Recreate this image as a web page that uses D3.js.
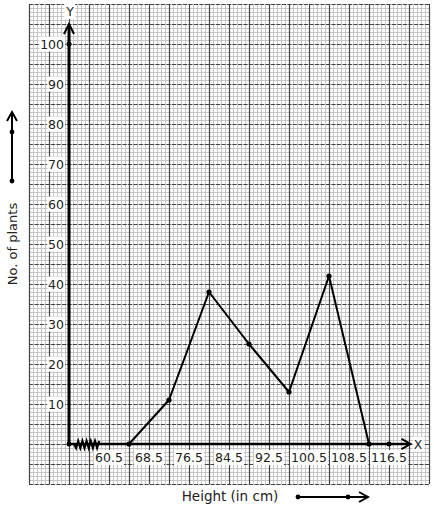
<!DOCTYPE html>
<html>
<head>
<meta charset="utf-8">
<script src="https://cdn.jsdelivr.net/npm/d3@7"></script>
<style>
  html, body { margin: 0; padding: 0; background: #fff; }
  svg { display: block; font-family: "DejaVu Sans", sans-serif; }
</style>
</head>
<body>
<svg id="chart" width="434" height="510"></svg>
<script>
// ---- data ----
const classMarks = [64.5, 72.5, 80.5, 88.5, 96.5, 104.5, 112.5];
const plants = [0, 11, 38, 25, 13, 42, 0];
const xTickLabels = [60.5, 68.5, 76.5, 84.5, 92.5, 100.5, 108.5, 116.5];
const yTickLabels = [10, 20, 30, 40, 50, 60, 70, 80, 90, 100];
const extraAxisDots = [116.5];
const xTitle = "Height (in cm)";
const yTitle = "No. of plants";

const svg = d3.select("#chart");

// scales: 5 px per cm, 4 px per plant
const x = d3.scaleLinear().domain([52.5, 116.5]).range([69, 389]);
const y = d3.scaleLinear().domain([0, 100]).range([444, 44]);

const gx0 = 44.5, gx1 = 124.5, gy0 = -10, gy1 = 110;

// ---- graph paper ----
const grid = svg.append("g");
const minorX = d3.range(0, 101).map(i => gx0 + i * 0.8);
const minorY = d3.range(0, 121).map(i => gy0 + i);
grid.selectAll("line.mx").data(minorX).join("line")
  .attr("x1", d => Math.round(x(d)) + 0.5).attr("x2", d => Math.round(x(d)) + 0.5)
  .attr("y1", y(gy1)).attr("y2", y(gy0))
  .attr("stroke", "#c6c6c6").attr("stroke-width", 1);
grid.selectAll("line.my").data(minorY).join("line")
  .attr("y1", d => Math.round(y(d)) + 0.5).attr("y2", d => Math.round(y(d)) + 0.5)
  .attr("x1", x(gx0)).attr("x2", x(gx1))
  .attr("stroke", "#c6c6c6").attr("stroke-width", 1);

const majorX = d3.range(0, 21).map(i => gx0 + i * 4);
const majorY = d3.range(0, 25).map(i => gy0 + i * 5);
grid.selectAll("line.MX").data(majorX).join("line")
  .attr("x1", d => Math.round(x(d)) + 0.5).attr("x2", d => Math.round(x(d)) + 0.5)
  .attr("y1", y(gy1)).attr("y2", y(gy0))
  .attr("stroke", "#444").attr("stroke-width", 1.2);
grid.selectAll("line.MY").data(majorY).join("line")
  .attr("y1", d => Math.round(y(d)) + 0.5).attr("y2", d => Math.round(y(d)) + 0.5)
  .attr("x1", x(gx0)).attr("x2", x(gx1))
  .attr("stroke", "#444").attr("stroke-width", 1.2)
  .attr("stroke-dasharray", "4,1.5");

// ---- tick labels with white background ----
function labelWithBg(g, txt, px, py, anchor, fs) {
  const t = g.append("text").attr("x", px).attr("y", py)
    .attr("text-anchor", anchor).attr("font-size", fs || 12.5).attr("fill", "#222").text(txt);
  const b = t.node().getBBox();
  g.insert("rect", () => t.node())
    .attr("x", b.x - 1).attr("y", b.y).attr("width", b.width + 2).attr("height", b.height)
    .attr("fill", "#fff");
}
const labels = svg.append("g");
xTickLabels.forEach(v => labelWithBg(labels, String(v), x(v), y(0) + 18, "middle"));
yTickLabels.forEach(v => labelWithBg(labels, String(v), x(52.5) - 5, y(v) + 4.5, "end"));
labelWithBg(labels, "Y", x(52.5) + 1, y(0) - 428, "middle");
labelWithBg(labels, "X", x(116.5) + 29, y(0) + 4.5, "middle");

// ---- axes ----
const axes = svg.append("g").attr("stroke", "#000").attr("fill", "none");
axes.append("line").attr("x1", x(52.5)).attr("x2", x(52.5))
  .attr("y1", y(0)).attr("y2", y(104.5)).attr("stroke-width", 3);
axes.append("path").attr("d", `M${x(52.5) - 5},${y(102.5)} L${x(52.5)},${y(105)} L${x(52.5) + 5},${y(102.5)}`)
  .attr("stroke-width", 2);
axes.append("line").attr("x1", x(52.5)).attr("x2", x(120.5))
  .attr("y1", y(0)).attr("y2", y(0)).attr("stroke-width", 2.5);
axes.append("path").attr("d", `M${x(119)},${y(1.3)} L${x(120.8)},${y(0)} L${x(119)},${y(-1.3)}`)
  .attr("stroke-width", 2);

// kink (zig-zag) on x axis
const kinkPts = d3.range(0, 13).map(i => [x(53.5) + i * 2.1, y(0) + (i % 2 === 0 ? -3 : 4) * (i === 0 ? 0 : 1)]);
axes.append("path").attr("d", d3.line()(kinkPts)).attr("stroke-width", 2.2);

// dots on axes
const axDots = svg.append("g").attr("fill", "#000");
axDots.append("circle").attr("cx", x(52.5)).attr("cy", y(0)).attr("r", 2.5);
axDots.append("circle").attr("cx", x(52.5)).attr("cy", y(100)).attr("r", 2.5);
extraAxisDots.forEach(v => axDots.append("circle").attr("cx", x(v)).attr("cy", y(0)).attr("r", 2.5));

// ---- frequency polygon ----
const pts = classMarks.map((c, i) => [x(c), y(plants[i])]);
svg.append("path").attr("d", d3.line()(pts))
  .attr("fill", "none").attr("stroke", "#000").attr("stroke-width", 2).attr("stroke-linejoin", "round");
svg.append("g").selectAll("circle").data(pts).join("circle")
  .attr("cx", d => d[0]).attr("cy", d => d[1]).attr("r", 2.6).attr("fill", "#000");

// ---- titles + arrows ----
svg.append("text").attr("x", 230).attr("y", 501).attr("text-anchor", "middle")
  .attr("font-size", 13.5).attr("fill", "#222").text(xTitle);
svg.append("text").attr("transform", "translate(17,244) rotate(-90)").attr("text-anchor", "middle")
  .attr("font-size", 13).attr("fill", "#222").text(yTitle);

const arr = svg.append("g").attr("stroke", "#000").attr("fill", "none").attr("stroke-width", 2);
arr.append("line").attr("x1", 298).attr("x2", 367).attr("y1", 497).attr("y2", 497);
arr.append("path").attr("d", "M359,492 L368,497 L359,502");
arr.append("line").attr("x1", 12).attr("x2", 12).attr("y1", 181).attr("y2", 113);
arr.append("path").attr("d", "M7,121 L12,112 L17,121");
const ad = svg.append("g").attr("fill", "#000");
[[298, 497], [348, 497], [12, 132], [12, 181]].forEach(p => ad.append("circle").attr("cx", p[0]).attr("cy", p[1]).attr("r", 2.4));
</script>
</body>
</html>
